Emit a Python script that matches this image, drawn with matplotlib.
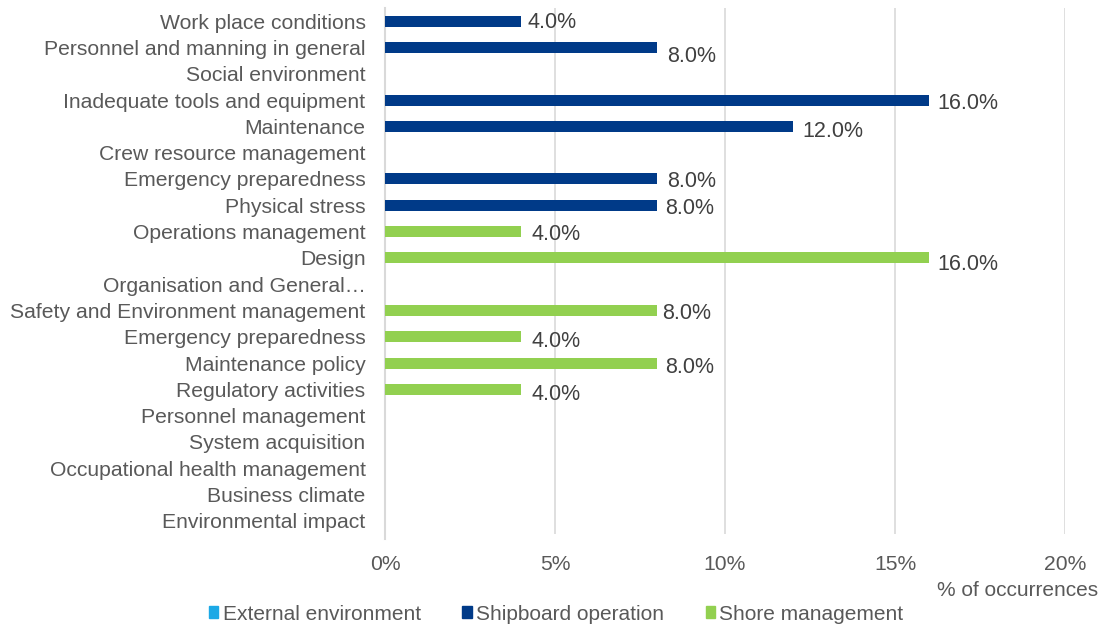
import numpy as np
from matplotlib import pyplot as plt
from matplotlib.patches import Patch

plt.rcParams['font.family'] = ['Liberation Sans', 'DejaVu Sans']

# categories, top to bottom
categories = [
    "Work place conditions", "Personnel and manning in general", "Social environment",
    "Inadequate tools and equipment", "Maintenance", "Crew resource management",
    "Emergency preparedness", "Physical stress", "Operations management", "Design",
    "Organisation and General\u2026", "Safety and Environment management",
    "Emergency preparedness", "Maintenance policy", "Regulatory activities",
    "Personnel management", "System acquisition", "Occupational health management",
    "Business climate", "Environmental impact",
]
groups = ["Shipboard operation"] * 8 + ["Shore management"] * 12
values = [4, 8, 0, 16, 12, 0, 8, 8, 4, 16, 0, 8, 4, 8, 4, 0, 0, 0, 0, 0]
# nudges of the value labels (pixels), as placed in the original
label_dx = [6, 10, 0, 8, 9, 0, 10, 8, 11, 8, 0, 5, 11, 8, 11, 0, 0, 0, 0, 0]
label_dy = [-1, 7, 0, 1, 3, 0, 0, 1, 0, 4, 0, 1, 2, 2, 3, 0, 0, 0, 0, 0]

legend_names = ["External environment", "Shipboard operation", "Shore management"]
colors = {"External environment": "#1CA9E6",
          "Shipboard operation": "#003A88",
          "Shore management": "#92D050"}
grey = "#595959"

fig = plt.figure(figsize=(11.03, 6.26), dpi=100)
ax = fig.add_axes([385 / 1103, 1 - 534 / 626, 680 / 1103, 526 / 626])

y = np.arange(len(categories))
ax.barh(y, values, height=0.42, color=[colors[g] for g in groups], zorder=3)

for yi, v, dx, dy in zip(y, values, label_dx, label_dy):
    if v > 0:
        ax.annotate(f"{v:.1f}%", (v, yi), xytext=(dx, -dy), textcoords="offset pixels",
                    va="center_baseline", ha="left", fontsize=15.5, color="#404040")

ax.set_ylim(len(categories) - 0.5, -0.5)
ax.set_xlim(0, 20)
ax.set_xticks([0, 5, 10, 15, 20])
ax.set_xticklabels(["0%", "5%", "10%", "15%", "20%"])
ax.set_yticks(y)
ax.set_yticklabels(categories, va="center_baseline")
ax.tick_params(axis="both", length=0, labelsize=15.2, colors=grey)
ax.tick_params(axis="y", pad=14)
ax.tick_params(axis="x", pad=15)
ax.grid(axis="x", color="#D9D9D9", linewidth=1.2, zorder=0)
for s in ["top", "right", "bottom"]:
    ax.spines[s].set_visible(False)
ax.spines["left"].set_color("#D9D9D9")
ax.spines["left"].set_linewidth(1.5)
ax.spines["left"].set_bounds(len(categories) - 0.3, -0.5)

fig.text(1098 / 1103, 1 - 591 / 626, "% of occurrences", ha="right", va="center",
         fontsize=15, color=grey)

handles = [Patch(color=colors[n]) for n in legend_names]
fig.legend(handles, legend_names, loc="center left", bbox_to_anchor=(209 / 1103, 1 - 614 / 626),
           ncol=3, frameon=False, fontsize=15, labelcolor=grey, handlelength=0.45,
           handleheight=0.45, handletextpad=0.2, borderpad=0, borderaxespad=0,
           columnspacing=2.0)

fig.savefig("out.png", dpi=100)
